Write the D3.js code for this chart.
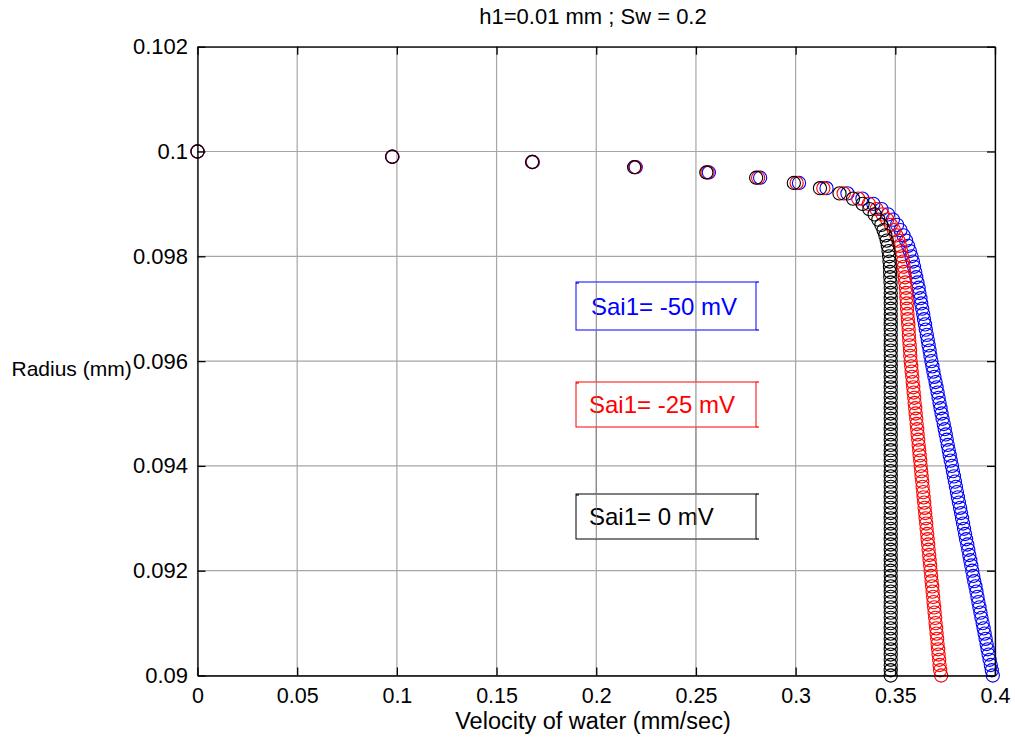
<!DOCTYPE html>
<html>
<head>
<meta charset="utf-8">
<script src="https://cdn.jsdelivr.net/npm/d3@7"></script>
<style>
  html, body { margin: 0; padding: 0; background: #fff; }
  svg { display: block; font-family: "Liberation Sans", Arial, Helvetica, sans-serif; }
</style>
</head>
<body>
<svg id="chart" width="1015" height="742"></svg>
<script>
// ---------------- DATA ----------------
const titleText = "h1=0.01 mm ; Sw = 0.2";
const xLabelText = "Velocity of water (mm/sec)";
const yLabelText = "Radius (mm)";

const xTicks = [0, 0.05, 0.1, 0.15, 0.2, 0.25, 0.3, 0.35, 0.4];
const xTickLabels = ["0", "0.05", "0.1", "0.15", "0.2", "0.25", "0.3", "0.35", "0.4"];
const yTicks = [0.09, 0.092, 0.094, 0.096, 0.098, 0.1, 0.102];
const yTickLabels = ["0.09", "0.092", "0.094", "0.096", "0.098", "0.1", "0.102"];

const radius = [
  0.1000,0.0999,0.0998,0.0997,0.0996,0.0995,0.0994,0.0993,0.0992,0.0991,
  0.0990,0.0989,0.0988,0.0987,0.0986,0.0985,0.0984,0.0983,0.0982,0.0981,
  0.0980,0.0979,0.0978,0.0977,0.0976,0.0975,0.0974,0.0973,0.0972,0.0971,
  0.0970,0.0969,0.0968,0.0967,0.0966,0.0965,0.0964,0.0963,0.0962,0.0961,
  0.0960,0.0959,0.0958,0.0957,0.0956,0.0955,0.0954,0.0953,0.0952,0.0951,
  0.0950,0.0949,0.0948,0.0947,0.0946,0.0945,0.0944,0.0943,0.0942,0.0941,
  0.0940,0.0939,0.0938,0.0937,0.0936,0.0935,0.0934,0.0933,0.0932,0.0931,
  0.0930,0.0929,0.0928,0.0927,0.0926,0.0925,0.0924,0.0923,0.0922,0.0921,
  0.0920,0.0919,0.0918,0.0917,0.0916,0.0915,0.0914,0.0913,0.0912,0.0911,
  0.0910,0.0909,0.0908,0.0907,0.0906,0.0905,0.0904,0.0903,0.0902,0.0901,
  0.0900
];

// Sai1 = 0 mV (black)
const velocity0 = [
  0.0000,0.0976,0.1678,0.2190,0.2552,0.2802,0.2991,0.3122,0.3220,0.3288,
  0.3336,0.3370,0.3396,0.3415,0.3430,0.3441,0.3450,0.3457,0.3462,0.3466,
  0.3469,0.3471,0.3473,0.3474,0.3475,0.3476,0.3477,0.3477,0.3477,0.3477,
  0.3477,0.3477,0.3477,0.3477,0.3477,0.3477,0.3477,0.3477,0.3477,0.3477,
  0.3477,0.3477,0.3477,0.3477,0.3477,0.3477,0.3477,0.3477,0.3477,0.3477,
  0.3477,0.3477,0.3477,0.3477,0.3477,0.3477,0.3477,0.3477,0.3477,0.3477,
  0.3477,0.3477,0.3477,0.3477,0.3477,0.3477,0.3477,0.3477,0.3477,0.3477,
  0.3477,0.3477,0.3477,0.3477,0.3477,0.3477,0.3477,0.3477,0.3477,0.3477,
  0.3477,0.3477,0.3477,0.3477,0.3477,0.3477,0.3477,0.3477,0.3477,0.3477,
  0.3477,0.3477,0.3477,0.3477,0.3477,0.3477,0.3477,0.3477,0.3477,0.3477,
  0.3477
];

// Sai1 = -25 mV (red)
const velocity25 = [
  0.0000,0.0977,0.1680,0.2194,0.2558,0.2812,0.3005,0.3139,0.3241,0.3314,
  0.3367,0.3406,0.3436,0.3459,0.3478,0.3493,0.3505,0.3515,0.3523,0.3529,
  0.3534,0.3538,0.3542,0.3545,0.3548,0.3550,0.3553,0.3555,0.3556,0.3558,
  0.3559,0.3561,0.3563,0.3565,0.3567,0.3568,0.3570,0.3572,0.3574,0.3575,
  0.3577,0.3580,0.3582,0.3585,0.3587,0.3590,0.3592,0.3595,0.3597,0.3600,
  0.3602,0.3605,0.3607,0.3610,0.3612,0.3615,0.3617,0.3620,0.3622,0.3625,
  0.3627,0.3630,0.3632,0.3635,0.3637,0.3640,0.3642,0.3645,0.3647,0.3650,
  0.3652,0.3655,0.3657,0.3660,0.3662,0.3665,0.3667,0.3670,0.3672,0.3675,
  0.3677,0.3680,0.3682,0.3685,0.3687,0.3690,0.3692,0.3695,0.3697,0.3700,
  0.3702,0.3705,0.3707,0.3710,0.3712,0.3715,0.3717,0.3720,0.3722,0.3725,
  0.3730
];

// Sai1 = -50 mV (blue)
const velocity50 = [
  0.0000,0.0978,0.1682,0.2198,0.2565,0.2822,0.3017,0.3155,0.3260,0.3335,
  0.3390,0.3431,0.3463,0.3488,0.3509,0.3526,0.3541,0.3554,0.3564,0.3573,
  0.3581,0.3588,0.3594,0.3600,0.3605,0.3611,0.3617,0.3621,0.3626,0.3630,
  0.3635,0.3640,0.3644,0.3649,0.3653,0.3658,0.3663,0.3667,0.3672,0.3676,
  0.3681,0.3686,0.3691,0.3696,0.3702,0.3707,0.3712,0.3717,0.3722,0.3727,
  0.3732,0.3737,0.3743,0.3748,0.3753,0.3758,0.3763,0.3768,0.3773,0.3778,
  0.3784,0.3789,0.3794,0.3799,0.3804,0.3809,0.3814,0.3819,0.3825,0.3830,
  0.3835,0.3840,0.3845,0.3850,0.3855,0.3861,0.3866,0.3871,0.3876,0.3881,
  0.3886,0.3891,0.3896,0.3902,0.3907,0.3912,0.3917,0.3922,0.3927,0.3932,
  0.3938,0.3943,0.3948,0.3953,0.3958,0.3963,0.3968,0.3973,0.3979,0.3984,
  0.3989
];

const seriesNames = ["Sai1= -50 mV", "Sai1= -25 mV", "Sai1= 0 mV"];
const seriesColors = ["#0000ff", "#ff0000", "#000000"];
const seriesValues = [velocity50, velocity25, velocity0];

// ---------------- LAYOUT ----------------
const svg = d3.select("#chart");
const plot = { left: 197.5, right: 995, top: 46.7, bottom: 675.5 };

const x = d3.scaleLinear().domain([0, 0.4]).range([plot.left, plot.right]);
const y = d3.scaleLinear().domain([0.09, 0.102]).range([plot.bottom, plot.top]);

// grid
const grid = svg.append("g");
grid.selectAll("line.vx").data(xTicks).join("line")
  .attr("x1", d => x(d)).attr("x2", d => x(d))
  .attr("y1", plot.top).attr("y2", plot.bottom)
  .attr("stroke", "#a6a6a6").attr("stroke-width", 1.2);
grid.selectAll("line.hy").data(yTicks).join("line")
  .attr("x1", plot.left).attr("x2", plot.right)
  .attr("y1", d => y(d)).attr("y2", d => y(d))
  .attr("stroke", "#a6a6a6").attr("stroke-width", 1.2);

// series (blue, red, black on top)
seriesValues.forEach((vals, si) => {
  const pts = vals.map((v, i) => ({ v: v, r: radius[i] }));
  svg.append("g").selectAll("circle").data(pts).join("circle")
    .attr("cx", d => x(d.v))
    .attr("cy", d => y(d.r))
    .attr("r", 6.6)
    .attr("fill", "none")
    .attr("stroke", seriesColors[si])
    .attr("stroke-width", 1.1);
});

// axes
const fmtX = d => xTickLabels[xTicks.indexOf(d)];
const fmtY = d => yTickLabels[yTicks.indexOf(d)];

function styleAxis(g) {
  g.select(".domain").attr("stroke", "#000").attr("stroke-width", 1.3);
  g.selectAll(".tick line").attr("stroke", "#000").attr("stroke-width", 1.3);
  g.selectAll(".tick text").attr("fill", "#000")
    .style("font-family", '"Liberation Sans", Arial, sans-serif');
}

svg.append("g").attr("transform", `translate(0,${plot.bottom})`)
  .call(d3.axisBottom(x).tickValues(xTicks).tickFormat(fmtX).tickSize(-8).tickSizeOuter(0).tickPadding(12))
  .call(g => g.selectAll(".tick text").attr("font-size", 21.5))
  .call(styleAxis);

svg.append("g").attr("transform", `translate(0,${plot.top})`)
  .call(d3.axisTop(x).tickValues(xTicks).tickFormat("").tickSize(-8).tickSizeOuter(0))
  .call(styleAxis);

svg.append("g").attr("transform", `translate(${plot.left},0)`)
  .call(d3.axisLeft(y).tickValues(yTicks).tickFormat(fmtY).tickSize(-8).tickSizeOuter(0).tickPadding(9.5))
  .call(g => g.selectAll(".tick text").attr("font-size", 22))
  .call(styleAxis);

svg.append("g").attr("transform", `translate(${plot.right},0)`)
  .call(d3.axisRight(y).tickValues(yTicks).tickFormat("").tickSize(-8).tickSizeOuter(0))
  .call(styleAxis);

// titles
svg.append("text").attr("x", 593).attr("y", 24)
  .attr("text-anchor", "middle").attr("font-size", 22).attr("fill", "#000")
  .text(titleText);

svg.append("text").attr("x", 593).attr("y", 729)
  .attr("text-anchor", "middle").attr("font-size", 23.5).attr("fill", "#000")
  .text(xLabelText);

svg.append("text").attr("x", 11.5).attr("y", 375.5)
  .attr("text-anchor", "start").attr("font-size", 21).attr("fill", "#000")
  .text(yLabelText);

// annotation text boxes
const boxTops = [282, 382, 494];
const boxBottoms = [330, 427, 539];
const boxBaselines = [315, 413, 525];
const boxTextX = [591, 589, 589];
const boxLeft = 576, boxRight = 756;

seriesNames.forEach((name, i) => {
  const g = svg.append("g");
  g.append("rect")
    .attr("x", boxLeft).attr("y", boxTops[i])
    .attr("width", boxRight - boxLeft).attr("height", boxBottoms[i] - boxTops[i])
    .attr("fill", "#fff").attr("stroke", seriesColors[i]).attr("stroke-width", 1);
  g.append("line").attr("x1", boxRight).attr("x2", boxRight + 3)
    .attr("y1", boxTops[i]).attr("y2", boxTops[i]).attr("stroke", seriesColors[i]).attr("stroke-width", 1.2);
  g.append("line").attr("x1", boxRight).attr("x2", boxRight + 3)
    .attr("y1", boxBottoms[i]).attr("y2", boxBottoms[i]).attr("stroke", seriesColors[i]).attr("stroke-width", 1.2);
  g.append("line").attr("x1", boxLeft).attr("x2", boxLeft + 3)
    .attr("y1", boxTops[i] + 1).attr("y2", boxTops[i] + 1).attr("stroke", seriesColors[i]).attr("stroke-width", 1.2);
  g.append("text").attr("x", boxTextX[i]).attr("y", boxBaselines[i])
    .attr("font-size", 24).attr("fill", seriesColors[i])
    .text(name);
});
// grid lines visible through the text boxes, as in the reference
svg.append("g").selectAll("line").data(xTicks.filter(d => x(d) > boxLeft && x(d) < boxRight)).join("line")
  .attr("x1", d => x(d)).attr("x2", d => x(d))
  .attr("y1", boxTops[0]).attr("y2", boxBottoms[2])
  .attr("stroke", "#808080").attr("stroke-width", 1);
</script>
</body>
</html>
